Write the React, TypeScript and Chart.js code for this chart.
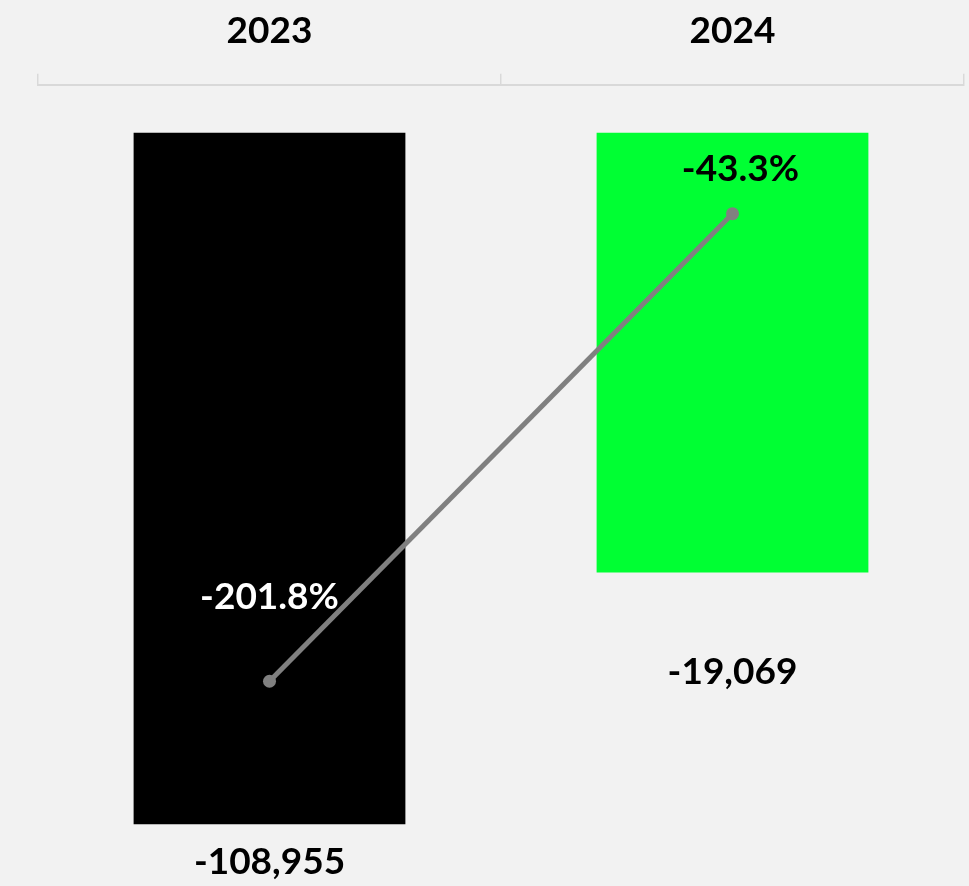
import React, { useEffect, useRef } from "react";
import { Chart, registerables } from "chart.js";

Chart.register(...registerables);

const categories = ["2023", "2024"];
const netValues = [-108955, -19069];
const pctValues = [-201.8, -43.3];
const barColors = ["#000000", "#00ff33"];
const pctLabelColors = ["#ffffff", "#000000"];

// axis settings
const yMin = -131000;
const yMax = 155000;
const barBase = 137900;
const y1Min = -271.2;
const y1Max = 0.4;

// label offsets (px)
const barLabelOffsets = [38, 100];
const pctLabelOffsetsY = [84, 45];
const pctLabelOffsetsX = [0, 8];

const FONT = "Lato, 'Open Sans', sans-serif";

const labelPlugin = {
  id: "customLabels",
  afterDatasetsDraw(chart: any) {
    const ctx = chart.ctx;
    ctx.save();
    ctx.font = `bold 37px ${FONT}`;
    ctx.textAlign = "center";
    ctx.textBaseline = "middle";
    const barMeta = chart.getDatasetMeta(1);
    barMeta.data.forEach((el: any, i: number) => {
      const bottom = Math.max(el.y, el.base);
      ctx.fillStyle = "#000000";
      ctx.fillText(netValues[i].toLocaleString("en-US"), el.x, bottom + barLabelOffsets[i]);
    });
    const lineMeta = chart.getDatasetMeta(0);
    lineMeta.data.forEach((el: any, i: number) => {
      ctx.fillStyle = pctLabelColors[i];
      ctx.fillText(pctValues[i].toFixed(1) + "%", el.x + pctLabelOffsetsX[i], el.y - pctLabelOffsetsY[i]);
    });
    ctx.restore();
  },
};

export default function App() {
  const ref = useRef<HTMLCanvasElement>(null);
  useEffect(() => {
    document.body.style.margin = "0";
    const chart = new Chart(ref.current as HTMLCanvasElement, {
      type: "bar",
      data: {
        labels: categories,
        datasets: [
          {
            type: "line",
            data: pctValues,
            yAxisID: "y1",
            borderColor: "#808080",
            backgroundColor: "#808080",
            borderWidth: 5,
            pointRadius: 6.5,
            pointBackgroundColor: "#808080",
            pointBorderWidth: 0,
            order: 0,
          } as any,
          {
            type: "bar",
            data: netValues,
            yAxisID: "y",
            base: barBase,
            backgroundColor: barColors,
            categoryPercentage: 1,
            barPercentage: 0.587,
            order: 1,
          } as any,
        ],
      },
      options: {
        animation: false,
        responsive: false,
        layout: { autoPadding: false, padding: { left: 38, right: 5, top: -12.6, bottom: 0 } },
        plugins: { legend: { display: false }, tooltip: { enabled: false } },
        scales: {
          x: {
            position: "top",
            offset: true,
            grid: {
              offset: true,
              drawOnChartArea: false,
              drawTicks: true,
              tickLength: 11,
              color: "#d9d9d9",
              lineWidth: 1.5,
            },
            border: { display: true, color: "#d9d9d9", width: 2 },
            ticks: {
              color: "#000000",
              font: { family: FONT, size: 37, weight: "bold", lineHeight: 1.2 },
              padding: 21,
              maxRotation: 0,
            },
          },
          y: { display: false, min: yMin, max: yMax },
          y1: { display: false, min: y1Min, max: y1Max },
        },
      } as any,
      plugins: [labelPlugin],
    });
    return () => chart.destroy();
  }, []);
  return (
    <div style={{ position: "fixed", left: 0, top: 0, width: 969, height: 886, background: "#f2f2f2" }}>
      <canvas ref={ref} width={969} height={886} />
    </div>
  );
}
